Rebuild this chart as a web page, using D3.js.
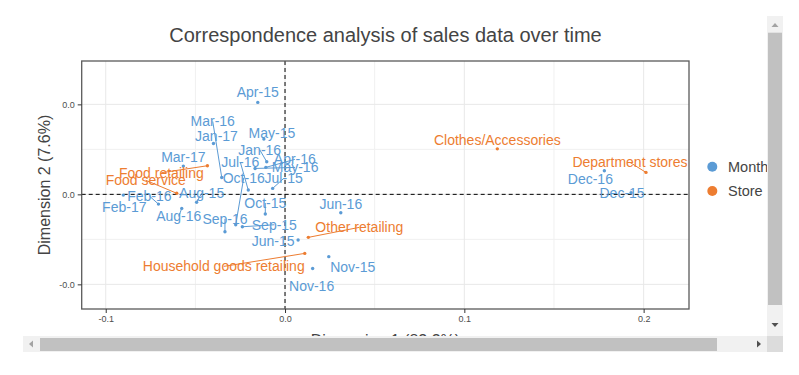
<!DOCTYPE html>
<html>
<head>
<meta charset="utf-8">
<script src="https://cdn.jsdelivr.net/npm/d3@7"></script>
<style>
  body { margin: 0; background: #fff; }
  text { font-family: Arial, "Liberation Sans", sans-serif; }
</style>
</head>
<body>
<div id="chart"></div>
<script>
// month points (dimension 1, dimension 2)
const months = ["Apr-15","May-15","Jun-15","Jul-15","Aug-15","Sep-15","Oct-15","Nov-15","Dec-15",
  "Jan-16","Feb-16","Mar-16","Apr-16","May-16","Jun-16","Jul-16","Aug-16","Sep-16","Oct-16","Nov-16","Dec-16",
  "Jan-17","Feb-17","Mar-17"];
const monthDim1 = [-0.0152,-0.0118,0.0073,-0.0069,-0.0493,-0.0238,-0.0110,0.0244,0.1930,
  -0.0102,-0.0706,-0.0353,-0.0107,-0.0167,0.0311,-0.0205,-0.0576,-0.0335,-0.0275,0.0154,0.1781,
  -0.0399,-0.0902,-0.0567];
const monthDim2 = [0.0511,0.0307,-0.0254,0.0033,-0.0044,-0.0180,-0.0109,-0.0346,0.0009,
  0.0181,-0.0054,0.0094,0.0150,0.0144,-0.0102,0.0024,-0.0078,-0.0208,-0.0169,-0.0412,0.0131,
  0.0283,-0.0004,0.0157];

// store points
const stores = ["Clothes/Accessories","Department stores","Food retailing","Food service",
  "Household goods retailing","Other retailing"];
const storeDim1 = [0.1184,0.2013,-0.0433,-0.0604,0.0110,0.0130];
const storeDim2 = [0.0253,0.0122,0.0159,0.0006,-0.0328,-0.0239];

const xTicks = [-0.1, 0, 0.1, 0.2];
const xTickLabels = ["-0.1","0.0","0.1","0.2"];
const yTicks = [-0.05, 0, 0.05];
const yTickLabels = ["-0.0","0.0","0.0"];
const legendKeys = ["Month","Store"];

// label placement (repel result): [dx, dy, draw segment]
const labelNudge = {
  "Apr-15":[0,-10,0], "May-15":[8,-6,0], "Jun-15":[-25,1,0], "Jul-15":[11,-10,1],
  "Aug-15":[5,-9,1], "Sep-15":[32,-2,1], "Oct-15":[0,-11,1], "Nov-15":[24,10,0],
  "Dec-15":[-9,0,0], "Jan-16":[-7,-12,1], "Feb-16":[-9,-8,1], "Mar-16":[-9,-56,1],
  "Apr-16":[29,-8,1], "May-16":[40,-1,1], "Jun-16":[0,-9,0], "Jul-16":[-8,-28,1],
  "Aug-16":[-3,8,1], "Sep-16":[0,-13,1], "Oct-16":[8,-47,1], "Nov-16":[-1,17,0],
  "Dec-16":[-14,8,0], "Jan-17":[3,-7,0], "Feb-17":[1,12,0], "Mar-17":[0,-9,0],
  "Clothes/Accessories":[0,-9,0], "Department stores":[-16,-10,1], "Food retailing":[-46,7,1],
  "Food service":[-31,-13,1], "Household goods retailing":[-81,13,1], "Other retailing":[51,-10,1]
};

const colors = { Month: "#5b9bd5", Store: "#ed7d31" };

const W = 799, H = 375;
const svg = d3.select("#chart").append("svg")
  .attr("width", W).attr("height", H);

// visible part of the scrolled container
svg.append("defs").append("clipPath").attr("id", "view")
  .append("rect").attr("x", 23).attr("y", 16).attr("width", 744).attr("height", 320);

const g = svg.append("g").attr("clip-path", "url(#view)");

const panel = { left: 81.7, right: 689, top: 61, bottom: 309 };

const x = d3.scaleLinear().domain([-0.1134, 0.2253]).range([panel.left, panel.right]);
const y = d3.scaleLinear().domain([-0.0637, 0.0741]).range([panel.bottom, panel.top]);

// title
g.append("text")
  .attr("x", 385.5).attr("y", 42)
  .attr("text-anchor", "middle")
  .attr("font-size", "20px")
  .attr("fill", "#444")
  .text("Correspondence analysis of sales data over time");

// grid
const grid = g.append("g");
grid.selectAll(".vminor").data([-0.05, 0.05, 0.15]).enter().append("line")
  .attr("x1", d => x(d)).attr("x2", d => x(d))
  .attr("y1", panel.top).attr("y2", panel.bottom)
  .attr("stroke", "#f0f0f0").attr("stroke-width", 1);
grid.selectAll(".hminor").data([-0.025, 0.025]).enter().append("line")
  .attr("y1", d => y(d)).attr("y2", d => y(d))
  .attr("x1", panel.left).attr("x2", panel.right)
  .attr("stroke", "#f0f0f0").attr("stroke-width", 1);
grid.selectAll(".vmajor").data(xTicks).enter().append("line")
  .attr("x1", d => x(d)).attr("x2", d => x(d))
  .attr("y1", panel.top).attr("y2", panel.bottom)
  .attr("stroke", "#e8e8e8").attr("stroke-width", 1);
grid.selectAll(".hmajor").data(yTicks).enter().append("line")
  .attr("y1", d => y(d)).attr("y2", d => y(d))
  .attr("x1", panel.left).attr("x2", panel.right)
  .attr("stroke", "#e8e8e8").attr("stroke-width", 1);

// zero reference lines
g.append("line")
  .attr("x1", x(0)).attr("x2", x(0)).attr("y1", panel.top).attr("y2", panel.bottom)
  .attr("stroke", "#000").attr("stroke-dasharray", "4,3");
g.append("line")
  .attr("x1", panel.left).attr("x2", panel.right).attr("y1", y(0)).attr("y2", y(0))
  .attr("stroke", "#000").attr("stroke-dasharray", "4,3");

// points table
const pts = months.map((m, i) => ({ name: m, type: "Month", d1: monthDim1[i], d2: monthDim2[i] }))
  .concat(stores.map((s, i) => ({ name: s, type: "Store", d1: storeDim1[i], d2: storeDim2[i] })));

// segments
g.selectAll(".seg").data(pts.filter(d => labelNudge[d.name][2])).enter().append("line")
  .attr("x1", d => x(d.d1)).attr("y1", d => y(d.d2))
  .attr("x2", d => x(d.d1) + labelNudge[d.name][0])
  .attr("y2", d => y(d.d2) + labelNudge[d.name][1])
  .attr("stroke", d => colors[d.type]).attr("stroke-width", 1);

// dots
g.selectAll(".dot").data(pts).enter().append("circle")
  .attr("cx", d => x(d.d1)).attr("cy", d => y(d.d2))
  .attr("r", 1.7)
  .attr("fill", d => colors[d.type]);

// labels
g.selectAll(".lab").data(pts).enter().append("text")
  .attr("x", d => x(d.d1) + labelNudge[d.name][0])
  .attr("y", d => y(d.d2) + labelNudge[d.name][1] + 5)
  .attr("text-anchor", "middle")
  .attr("font-size", "14px")
  .attr("fill", d => colors[d.type])
  .text(d => d.name);

// panel border
g.append("rect")
  .attr("x", panel.left).attr("y", panel.top)
  .attr("width", panel.right - panel.left).attr("height", panel.bottom - panel.top)
  .attr("fill", "none").attr("stroke", "#5a5a5a").attr("stroke-width", 1.3);

// axes
const xAxis = g.append("g")
  .attr("transform", `translate(0,${panel.bottom})`)
  .call(d3.axisBottom(x).tickValues(xTicks).tickFormat((d, i) => xTickLabels[i]).tickSize(4).tickPadding(3));
const yAxis = g.append("g")
  .attr("transform", `translate(${panel.left},0)`)
  .call(d3.axisLeft(y).tickValues(yTicks).tickFormat((d, i) => yTickLabels[i]).tickSize(4).tickPadding(3));
[xAxis, yAxis].forEach(a => {
  a.select(".domain").remove();
  a.selectAll("line").attr("stroke", "#333");
  a.selectAll("text").attr("font-size", "9px").attr("fill", "#4d4d4d")
    .attr("font-family", "Arial, 'Liberation Sans', sans-serif");
});

// axis titles
g.append("text")
  .attr("transform", "translate(50,185) rotate(-90)")
  .attr("text-anchor", "middle")
  .attr("font-size", "16px")
  .attr("fill", "#444")
  .text("Dimension 2 (7.6%)");
g.append("text")
  .attr("x", 385.4).attr("y", 346)
  .attr("text-anchor", "middle")
  .attr("font-size", "16px")
  .attr("fill", "#444")
  .text("Dimension 1 (82.3%)");

// legend
const legend = g.append("g");
legendKeys.forEach((k, i) => {
  legend.append("circle")
    .attr("cx", 712.3).attr("cy", 166.7 + i * 24.3)
    .attr("r", 5).attr("fill", colors[k]);
  legend.append("text")
    .attr("x", 728).attr("y", 166.7 + i * 24.3 + 5)
    .attr("font-size", "14.5px").attr("fill", "#444")
    .text(k);
});

// scrollbars of the container
const sb = svg.append("g");
// vertical
sb.append("rect").attr("x", 767).attr("y", 16).attr("width", 16).attr("height", 320).attr("fill", "#f1f1f1");
sb.append("rect").attr("x", 768).attr("y", 32.7).attr("width", 14).attr("height", 272.3).attr("fill", "#c1c1c1");
sb.append("path").attr("d", "M771.5,27 L778.5,27 L775,23 Z").attr("fill", "#a3a3a3");
sb.append("path").attr("d", "M771.5,323 L778.5,323 L775,327 Z").attr("fill", "#505050");
// horizontal
sb.append("rect").attr("x", 23).attr("y", 336).attr("width", 744).attr("height", 16).attr("fill", "#f1f1f1");
sb.append("rect").attr("x", 40).attr("y", 338).attr("width", 677).attr("height", 13).attr("fill", "#c1c1c1");
sb.append("path").attr("d", "M33,340.5 L33,347.5 L29,344 Z").attr("fill", "#a3a3a3");
sb.append("path").attr("d", "M757,340.5 L757,347.5 L761,344 Z").attr("fill", "#505050");
// corner
sb.append("rect").attr("x", 767).attr("y", 336).attr("width", 16).attr("height", 16).attr("fill", "#dcdcdc");
</script>
</body>
</html>
